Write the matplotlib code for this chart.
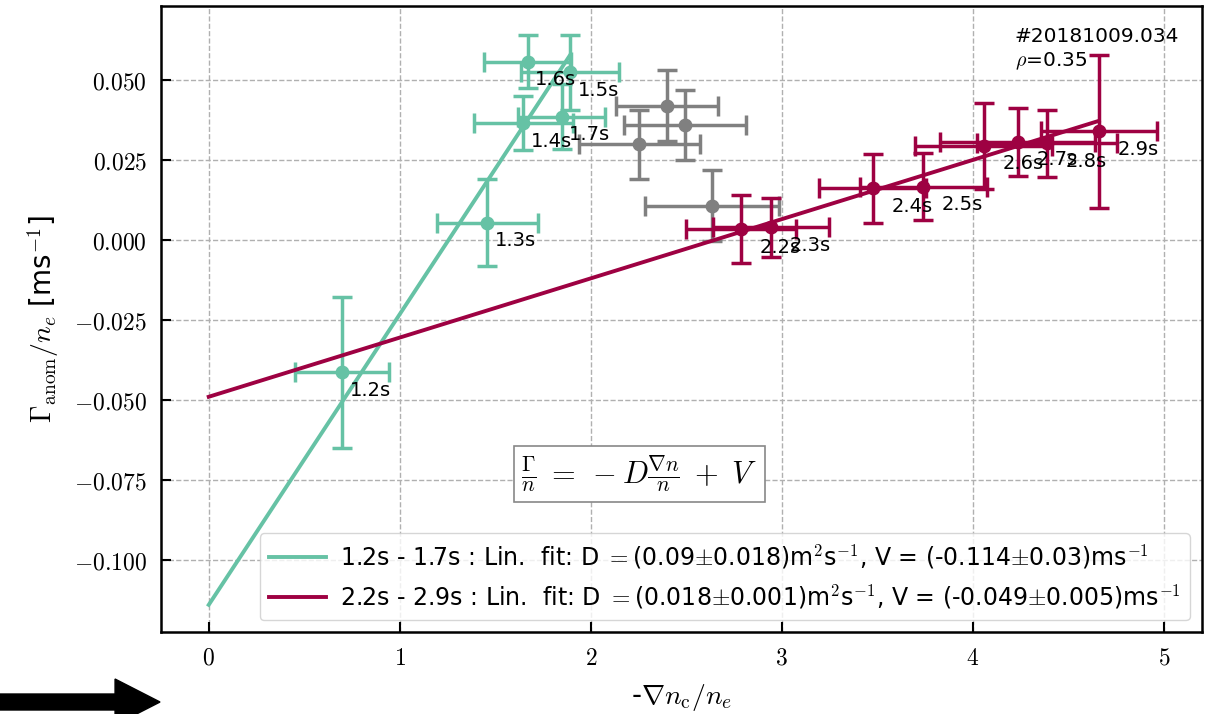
import numpy as np
import matplotlib
matplotlib.use('Agg')
from matplotlib import pyplot as plt
from matplotlib.ticker import FuncFormatter, MultipleLocator
from matplotlib.patches import FancyArrow

plt.rcParams['font.family'] = ['DejaVu Sans']
plt.rcParams['mathtext.fontset'] = 'cm'

# 1.2s - 1.7s
times_a = ['1.2s', '1.3s', '1.4s', '1.5s', '1.6s', '1.7s']
x_a = [0.697, 1.459, 1.647, 1.892, 1.670, 1.848]
y_a = [-0.0413, 0.0054, 0.0365, 0.0524, 0.0557, 0.0385]
xerr_a = [0.246, 0.263, 0.258, 0.256, 0.228, 0.229]
yerr_a = [0.0236, 0.0136, 0.0084, 0.0117, 0.0082, 0.0102]

# 1.8s - 2.1s (not fitted)
x_g = [2.400, 2.495, 2.254, 2.634]
y_g = [0.0419, 0.0359, 0.0299, 0.0107]
xerr_g = [0.268, 0.319, 0.316, 0.351]
yerr_g = [0.0111, 0.0110, 0.0108, 0.0111]

# 2.2s - 2.9s
times_b = ['2.2s', '2.3s', '2.4s', '2.5s', '2.6s', '2.7s', '2.8s', '2.9s']
x_b = [2.787, 2.944, 3.477, 3.741, 4.058, 4.235, 4.389, 4.660]
y_b = [0.00344, 0.00396, 0.01615, 0.01667, 0.0294, 0.0307, 0.0302, 0.0339]
xerr_b = [0.288, 0.302, 0.280, 0.332, 0.358, 0.405, 0.368, 0.304]
yerr_b = [0.0106, 0.0093, 0.0107, 0.0104, 0.0135, 0.0106, 0.0104, 0.0240]

# fits: slope D, offset V
D_a, V_a = 0.0908, -0.114
D_b, V_b = 0.0185, -0.049

label_a = r'1.2s - 1.7s : Lin.  fit: D $=$(0.09$\pm$0.018)m$^2$s$^{-1}$, V = (-0.114$\pm$0.03)ms$^{-1}$'
label_b = r'2.2s - 2.9s : Lin.  fit: D $=$(0.018$\pm$0.001)m$^2$s$^{-1}$, V = (-0.049$\pm$0.005)ms$^{-1}$'

c_a = '#66c2a5'
c_b = '#9e0142'
c_g = '#808080'

fig = plt.figure(figsize=(12.15, 7.14), dpi=100)
ax = fig.add_axes([0.1325, 0.1148, 0.8568, 0.8768])

ekw = dict(fmt='o', ms=9, capsize=7, elinewidth=2.5, capthick=2.5)
ax.errorbar(x_g, y_g, xerr=xerr_g, yerr=yerr_g, color=c_g, **ekw)
ax.errorbar(x_a, y_a, xerr=xerr_a, yerr=yerr_a, color=c_a, **ekw)
ax.errorbar(x_b, y_b, xerr=xerr_b, yerr=yerr_b, color=c_b, **ekw)

xf_a = np.linspace(0, max(x_a), 50)
xf_b = np.linspace(0, max(x_b), 50)
ax.plot(xf_a, D_a * xf_a + V_a, color=c_a, lw=2.8, label=label_a)
ax.plot(xf_b, D_b * xf_b + V_b, color=c_b, lw=2.8, label=label_b)

for t, x, y in zip(times_a, x_a, y_a):
    ax.annotate(t, (x, y), xytext=(5.5, -13), textcoords='offset points',
                fontsize=14, va='center', ha='left')
for t, x, y in zip(times_b, x_b, y_b):
    ax.annotate(t, (x, y), xytext=(13.5, -13), textcoords='offset points',
                fontsize=14, va='center', ha='left')

ax.text(2.254, -0.0731, r'$\frac{\Gamma}{n}\;=\;-D\frac{\nabla n}{n}\;+\;V$', fontsize=22,
        ha='center', va='center',
        bbox=dict(boxstyle='square,pad=0.25', fc='white', ec='#888888', lw=1.2))
ax.text(4.22, 0.0665, '#20181009.034\n' + r'$\rho$=0.35', fontsize=14.5, va='top', ha='left',
        linespacing=1.25)

ax.set_xlim(-0.25, 5.2)
ax.set_ylim(-0.1225, 0.0731)
ax.xaxis.set_major_locator(MultipleLocator(1))
ax.yaxis.set_major_locator(MultipleLocator(0.025))
ax.xaxis.set_major_formatter(FuncFormatter(lambda v, p: f'${v:.0f}$'))
ax.yaxis.set_major_formatter(FuncFormatter(lambda v, p: f'${v:.3f}$'))
ax.tick_params(direction='in', length=7, width=1.5, labelsize=17, pad=10)
for s in ax.spines.values():
    s.set_linewidth(1.8)
ax.grid(True, ls='--', color='#b0b0b0', lw=1)

ax.set_xlabel(r'-$\nabla n_{\rm c}/n_e$', fontsize=20, labelpad=9)
ax.set_ylabel(r'$\Gamma_{\rm anom}/n_e$ [ms$^{-1}$]', fontsize=20, labelpad=9)

ax.legend(loc='lower right', fontsize=17, handlelength=2.4, handletextpad=0.6)

fig.patches.append(FancyArrow(0.0, 0.0168, 0.1317 - 0.037, 0.0, width=0.0224,
                              head_width=0.0644, head_length=0.037,
                              length_includes_head=False, color='black',
                              transform=fig.transFigure, figure=fig))

fig.savefig('out.png', dpi=100)
